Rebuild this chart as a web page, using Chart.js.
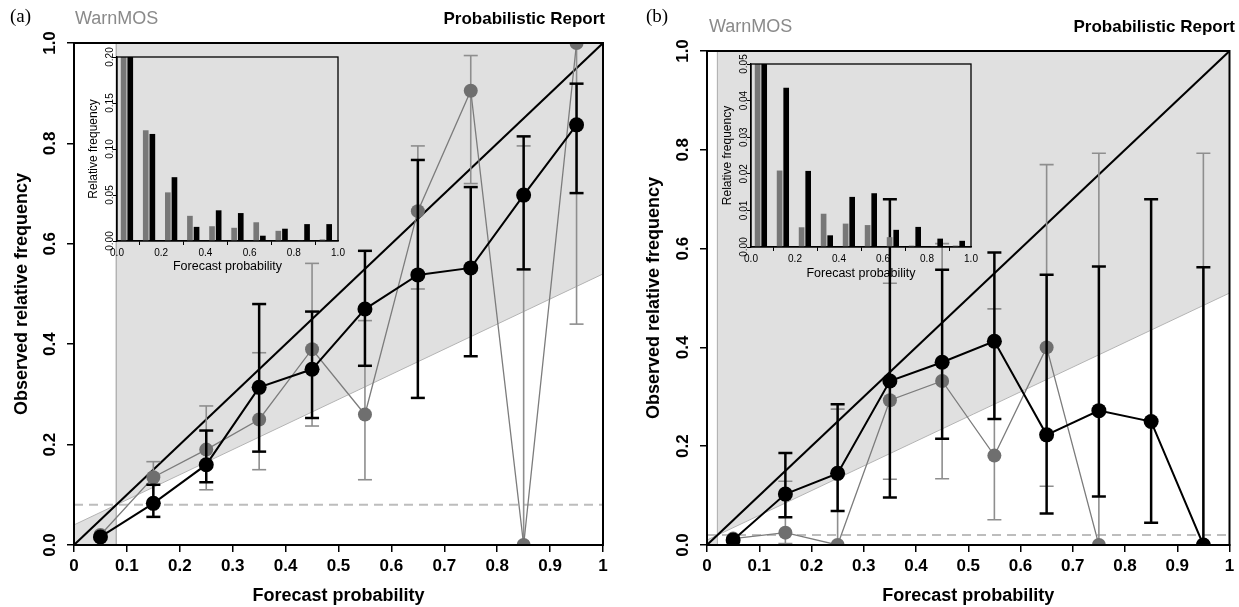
<!DOCTYPE html>
<html>
<head>
<meta charset="utf-8">
<script src="https://cdn.jsdelivr.net/npm/chart.js@4.4.1/dist/chart.umd.min.js"></script>
<style>
  html, body { margin: 0; padding: 0; background: #fff; }
  #wrap { position: relative; width: 1239px; height: 607px; overflow: hidden; }
  canvas { position: absolute; }
</style>
</head>
<body>
<div id="wrap">
  <canvas id="mainA" width="620" height="607" style="left:0;top:0;width:620px;height:607px"></canvas>
  <canvas id="mainB" width="619" height="607" style="left:620px;top:0;width:619px;height:607px"></canvas>
  <canvas id="histA" width="275" height="235" style="left:80px;top:45px;width:275px;height:235px"></canvas>
  <canvas id="histB" width="275" height="235" style="left:714px;top:52px;width:275px;height:235px"></canvas>
</div>
<script>
// forecast probability bins (centres)
var bins = [0.05, 0.15, 0.25, 0.35, 0.45, 0.55, 0.65, 0.75, 0.85, 0.95];
var mainXTicks = [0, 0.1, 0.2, 0.3, 0.4, 0.5, 0.6, 0.7, 0.8, 0.9, 1];
var mainYTicks = [0, 0.2, 0.4, 0.6, 0.8, 1];
var histXTicks = [0, 0.2, 0.4, 0.6, 0.8, 1];

// (a)
var climA = 0.08;
var grayObsA = [0.02, 0.135, 0.19, 0.25, 0.39, 0.26, 0.665, 0.905, 0.0, 1.0];
var grayLoA  = [null, 0.085, 0.11, 0.15, 0.237, 0.13, 0.51, 0.72, 0.0, 0.44];
var grayHiA  = [null, 0.166, 0.277, 0.383, 0.561, 0.447, 0.795, 0.975, 0.795, 1.0];
var blackObsA = [0.016, 0.083, 0.16, 0.314, 0.35, 0.47, 0.538, 0.552, 0.697, 0.837];
var blackLoA  = [null, 0.056, 0.125, 0.186, 0.253, 0.357, 0.293, 0.376, 0.549, 0.701];
var blackHiA  = [null, 0.12, 0.228, 0.48, 0.465, 0.586, 0.767, 0.713, 0.814, 0.919];
var histGrayA  = [0.5, 0.12, 0.0525, 0.027, 0.0157, 0.014, 0.020, 0.0107, 0.0, 0.0014];
var histBlackA = [0.45, 0.116, 0.069, 0.015, 0.033, 0.030, 0.0054, 0.013, 0.018, 0.018];
var histYTicksA = [0, 0.05, 0.10, 0.15, 0.20];

// (b)
var climB = 0.02;
var grayObsB = [0.013, 0.025, 0.0, 0.293, 0.332, 0.181, 0.40, 0.0, null, 0.0];
var grayLoB  = [null, 0.003, 0.0, 0.133, 0.134, 0.051, 0.119, 0.0, null, 0.0];
var grayHiB  = [null, 0.129, 0.275, 0.53, 0.61, 0.478, 0.77, 0.793, null, 0.793];
var blackObsB = [0.01, 0.103, 0.145, 0.332, 0.37, 0.4125, 0.223, 0.272, 0.25, 0.0];
var blackLoB  = [null, 0.056, 0.069, 0.096, 0.215, 0.255, 0.064, 0.098, 0.045, 0.0];
var blackHiB  = [null, 0.186, 0.285, 0.70, 0.557, 0.592, 0.547, 0.564, 0.70, 0.5625];
var histGrayB  = [0.8, 0.0208, 0.0053, 0.009, 0.0063, 0.0059, 0.0026, 0.0003, 0.0, 0.0003];
var histBlackB = [0.75, 0.0434, 0.0207, 0.0031, 0.0136, 0.0146, 0.0046, 0.0054, 0.0022, 0.0016];
var histYTicksB = [0, 0.01, 0.02, 0.03, 0.04, 0.05];

var SANS = '"Liberation Sans", Arial, sans-serif';
var GRAY_PT = '#6f6f6f', GRAY_BAR = '#8e8e8e';

function pts(xs, ys) {
    return xs.map(function(x, i) { return {x: x, y: ys[i]}; });
}
function stems(xs, lo, hi) {
    var out = [];
    xs.forEach(function(x, i) {
        if (lo[i] == null) return;
        out.push({x: x, y: lo[i]}, {x: x, y: hi[i]}, {x: x, y: null});
    });
    return out;
}
function caps(xs, lo, hi) {
    var out = [];
    xs.forEach(function(x, i) {
        if (lo[i] == null) return;
        out.push({x: x, y: lo[i]}, {x: x, y: hi[i]});
    });
    return out;
}

var framePlugin = {
    id: 'frame',
    afterDatasetsDraw: function(chart, args, o) {
        var a = chart.chartArea, ctx = chart.ctx;
        ctx.save();
        ctx.strokeStyle = '#000';
        ctx.lineWidth = o.width || 2;
        ctx.strokeRect(a.left, a.top, a.right - a.left, a.bottom - a.top);
        ctx.restore();
    }
};

var headerPlugin = {
    id: 'header',
    afterDraw: function(chart, args, o) {
        var ctx = chart.ctx;
        (o.items || []).forEach(function(t) {
            ctx.save();
            ctx.font = t.font;
            ctx.fillStyle = t.color || '#000';
            ctx.textAlign = t.align || 'left';
            ctx.textBaseline = 'middle';
            ctx.fillText(t.text, t.x, t.y);
            ctx.restore();
        });
    }
};

function lineSet(data, extra) {
    var d = {
        type: 'line', data: data, pointRadius: 0, pointHoverRadius: 0,
        borderColor: '#000', borderWidth: 1, fill: false, tension: 0, clip: 0
    };
    for (var k in extra) d[k] = extra[k];
    return d;
}

function mainConfig(p) {
    var c = p.clim;
    return {
        type: 'line',
        data: {
            datasets: [
                lineSet([{x: c, y: c}, {x: 1, y: (1 + c) / 2}, {x: 1, y: 1}, {x: c, y: 1}, {x: c, y: c}],
                    {fill: 'shape', backgroundColor: '#e0e0e0', borderColor: '#b4b4b4', borderWidth: 1, order: 20}),
                lineSet([{x: 0, y: 0}, {x: 0, y: c / 2}, {x: c, y: c}, {x: c, y: 0}, {x: 0, y: 0}],
                    {fill: 'shape', backgroundColor: '#e0e0e0', borderColor: '#b4b4b4', borderWidth: 1, order: 20}),
                lineSet([{x: 0, y: c}, {x: 1, y: c}],
                    {borderColor: '#bdbdbd', borderWidth: 2, borderDash: [9, 6], order: 18}),
                lineSet([{x: 0, y: 0}, {x: 1, y: 1}], {borderWidth: 2, order: 16}),
                lineSet(stems(bins, p.grayLo, p.grayHi), {borderColor: GRAY_BAR, borderWidth: 1.6, order: 14}),
                lineSet(caps(bins, p.grayLo, p.grayHi),
                    {showLine: false, pointStyle: 'line', pointRadius: 7, pointBorderWidth: 1.6, pointBorderColor: GRAY_BAR, order: 13}),
                lineSet(pts(bins, p.grayObs),
                    {borderColor: '#7c7c7c', borderWidth: 1.3, pointRadius: 7, pointBackgroundColor: GRAY_PT, pointBorderColor: GRAY_PT, pointBorderWidth: 0, order: 12}),
                lineSet(stems(bins, p.blackLo, p.blackHi), {borderWidth: 2.5, order: 10}),
                lineSet(caps(bins, p.blackLo, p.blackHi),
                    {showLine: false, pointStyle: 'line', pointRadius: 7, pointBorderWidth: 2.5, pointBorderColor: '#000', order: 9}),
                lineSet(pts(bins, p.blackObs),
                    {borderWidth: 2, pointRadius: 7.5, pointBackgroundColor: '#000', pointBorderColor: '#000', pointBorderWidth: 0, order: 8})
            ]
        },
        options: {
            responsive: false,
            animation: false,
            events: [],
            layout: {padding: {left: 0, top: p.top, right: p.right, bottom: 0}},
            plugins: {
                legend: {display: false},
                tooltip: {enabled: false},
                frame: {width: 2},
                header: {items: p.header}
            },
            scales: {
                x: {
                    type: 'linear', min: 0, max: 1,
                    afterFit: function(s) { s.height = 62; },
                    afterBuildTicks: function(s) { s.ticks = mainXTicks.map(function(v) { return {value: v}; }); },
                    ticks: {
                        font: {family: SANS, size: 17, weight: 'bold'}, color: '#000', padding: 4,
                        maxRotation: 0, autoSkip: false,
                        callback: function(v) { return (v === 0 || v === 1) ? String(v) : v.toFixed(1); }
                    },
                    grid: {drawOnChartArea: false, tickLength: 7, color: '#000', lineWidth: 1.5},
                    border: {color: '#000', width: 2},
                    title: {display: true, text: 'Forecast probability', color: '#000',
                        font: {family: SANS, size: 18, weight: 'bold'}, padding: {top: 0, bottom: 0}}
                },
                y: {
                    type: 'linear', min: 0, max: 1,
                    afterFit: function(s) { s.width = p.yWidth; },
                    afterBuildTicks: function(s) { s.ticks = mainYTicks.map(function(v) { return {value: v}; }); },
                    ticks: {
                        font: {family: SANS, size: 17, weight: 'bold'}, color: '#000', padding: 5,
                        minRotation: 90, maxRotation: 90, crossAlign: 'center', autoSkip: false,
                        callback: function(v) { return v.toFixed(1); }
                    },
                    grid: {drawOnChartArea: false, tickLength: 7, color: '#000', lineWidth: 1.5},
                    border: {color: '#000', width: 2},
                    title: {display: true, text: 'Observed relative frequency', color: '#000',
                        font: {family: SANS, size: 18, weight: 'bold'}, padding: {top: p.yTitlePad, bottom: 0}}
                }
            }
        },
        plugins: [framePlugin, headerPlugin]
    };
}

function histConfig(p) {
    var barSet = function(xs, ys, color) {
        return {
            type: 'bar', data: pts(xs, ys), backgroundColor: color, borderWidth: 0,
            barThickness: 5, grouped: false, clip: 0
        };
    };
    return {
        type: 'bar',
        data: {
            datasets: [
                barSet(bins.map(function(b) { return b - 0.02; }), p.gray, '#777777'),
                barSet(bins.map(function(b) { return b + 0.01; }), p.black, '#000000')
            ]
        },
        options: {
            responsive: false,
            animation: false,
            events: [],
            layout: {padding: {left: 0, top: 12, right: p.right, bottom: 0}},
            plugins: {
                legend: {display: false},
                tooltip: {enabled: false},
                frame: {width: 1.3}
            },
            scales: {
                x: {
                    type: 'linear', min: 0, max: 1, offset: false,
                    afterFit: function(s) { s.height = p.xHeight; },
                    afterBuildTicks: function(s) { s.ticks = histXTicks.map(function(v) { return {value: v}; }); },
                    ticks: {font: {family: SANS, size: 10}, color: '#000', padding: 2, maxRotation: 0, autoSkip: false,
                        callback: function(v) { return v.toFixed(1); }},
                    grid: {drawOnChartArea: false, tickLength: 4, color: '#000', lineWidth: 1},
                    border: {color: '#000', width: 1.3},
                    title: {display: true, text: 'Forecast probability', color: '#000',
                        font: {family: SANS, size: 12.5}, padding: {top: 0, bottom: 6}}
                },
                y: {
                    type: 'linear', min: 0, max: p.yMax,
                    afterFit: function(s) { s.width = 37; },
                    afterBuildTicks: function(s) { s.ticks = p.yTicks.map(function(v) { return {value: v}; }); },
                    ticks: {font: {family: SANS, size: 10}, color: '#000', padding: -7,
                        minRotation: 90, maxRotation: 90, crossAlign: 'center', autoSkip: false,
                        callback: function(v) { return v.toFixed(2); }},
                    grid: {drawOnChartArea: false, tickLength: 4, color: '#000', lineWidth: 1},
                    border: {color: '#000', width: 1.3},
                    title: {display: true, text: 'Relative frequency', color: '#000',
                        font: {family: SANS, size: 12}, padding: {top: 6, bottom: 0}}
                }
            }
        },
        plugins: [framePlugin]
    };
}

window.onload = function() {
    new Chart(document.getElementById('mainA').getContext('2d'), mainConfig({
        clim: climA, grayObs: grayObsA, grayLo: grayLoA, grayHi: grayHiA,
        blackObs: blackObsA, blackLo: blackLoA, blackHi: blackHiA,
        top: 43, right: 17, yWidth: 74, yTitlePad: 11,
        header: [
            {text: '(a)', x: 10, y: 17, font: '19px "Liberation Serif", serif'},
            {text: 'WarnMOS', x: 75, y: 19, font: '18px ' + SANS, color: '#8a8a8a'},
            {text: 'Probabilistic Report', x: 605, y: 19, font: 'bold 17px ' + SANS, align: 'right'}
        ]
    }));
    new Chart(document.getElementById('mainB').getContext('2d'), mainConfig({
        clim: climB, grayObs: grayObsB, grayLo: grayLoB, grayHi: grayHiB,
        blackObs: blackObsB, blackLo: blackLoB, blackHi: blackHiB,
        top: 51, right: 6, yWidth: 87, yTitlePad: 23,
        header: [
            {text: '(b)', x: 26, y: 17, font: '19px "Liberation Serif", serif'},
            {text: 'WarnMOS', x: 89, y: 27, font: '18px ' + SANS, color: '#8a8a8a'},
            {text: 'Probabilistic Report', x: 615, y: 27, font: 'bold 17px ' + SANS, align: 'right'}
        ]
    }));
    new Chart(document.getElementById('histA').getContext('2d'), histConfig({
        gray: histGrayA, black: histBlackA, yMax: 0.2, yTicks: histYTicksA, right: 17, xHeight: 39
    }));
    new Chart(document.getElementById('histB').getContext('2d'), histConfig({
        gray: histGrayB, black: histBlackB, yMax: 0.05, yTicks: histYTicksB, right: 18, xHeight: 40
    }));
};
</script>
</body>
</html>
